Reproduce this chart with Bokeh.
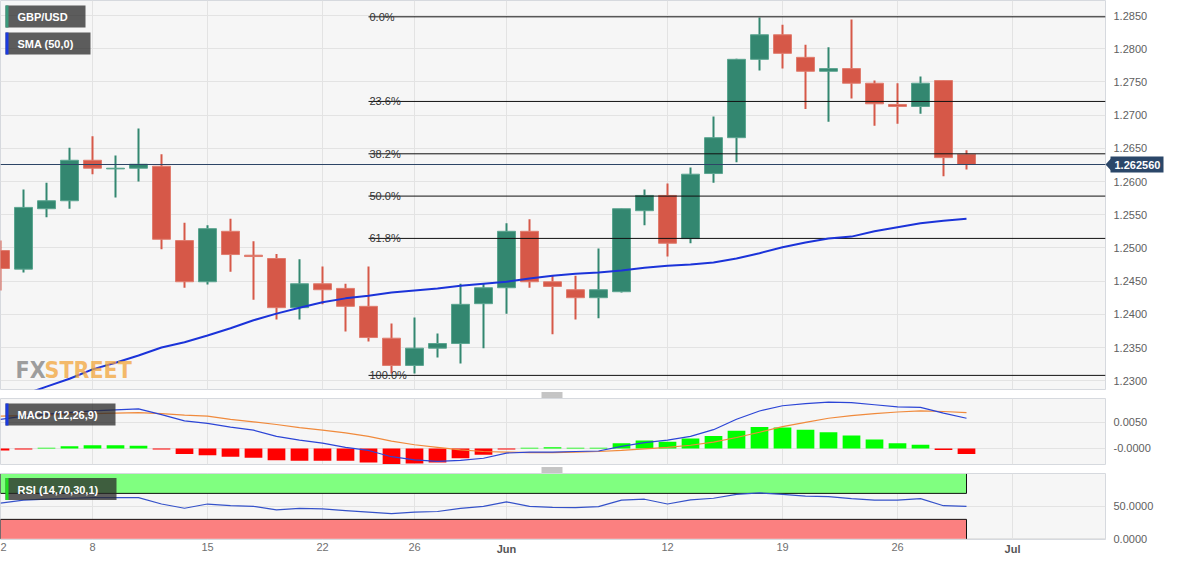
import pandas as pd
from bokeh.plotting import figure
from bokeh.layouts import column
from bokeh.models import Range1d, FixedTicker, PrintfTickFormatter, Label, Span
from bokeh.embed import file_html
from bokeh.resources import INLINE
from bokeh.core.properties import value

# ---------------- data (GBP/USD daily, 2 May - 29 Jun 2023) ----------------
open_ = [1.2496, 1.2468, 1.2559, 1.2571, 1.2632, 1.2619, 1.2620, 1.2623, 1.2511, 1.2449,
         1.2525, 1.2489, 1.2484, 1.2410, 1.2446, 1.2439, 1.2412, 1.2364, 1.2323, 1.2349,
         1.2356, 1.2416, 1.2440, 1.2525, 1.2449, 1.2437, 1.2425, 1.2434, 1.2556, 1.2579,
         1.2514, 1.2612, 1.2666, 1.2784, 1.2821, 1.2787, 1.2766, 1.2770, 1.2748, 1.2716,
         1.2713, 1.2752, 1.2641]
high = [1.2511, 1.2588, 1.2598, 1.2651, 1.2668, 1.2639, 1.2680, 1.2641, 1.2538, 1.2534,
        1.2544, 1.2510, 1.2491, 1.2483, 1.2472, 1.2446, 1.2472, 1.2386, 1.2395, 1.2371,
        1.2446, 1.2446, 1.2537, 1.2543, 1.2458, 1.2458, 1.2499, 1.2559, 1.2588, 1.2597,
        1.2621, 1.2698, 1.2785, 1.2847, 1.2836, 1.2806, 1.2802, 1.2844, 1.2752, 1.2748,
        1.2758, 1.2752, 1.2647]
low = [1.2436, 1.2463, 1.2546, 1.2559, 1.2611, 1.2576, 1.2600, 1.2498, 1.2440, 1.2445,
       1.2464, 1.2422, 1.2392, 1.2392, 1.2415, 1.2374, 1.2359, 1.2311, 1.2311, 1.2335,
       1.2326, 1.2349, 1.2401, 1.2440, 1.2370, 1.2392, 1.2394, 1.2433, 1.2534, 1.2487,
       1.2507, 1.2598, 1.2629, 1.2767, 1.2770, 1.2709, 1.2690, 1.2725, 1.2684, 1.2687,
       1.2702, 1.2608, 1.2618]
close = [1.2469, 1.2561, 1.2571, 1.2632, 1.2620, 1.2620, 1.2626, 1.2513, 1.2449, 1.2529,
         1.2490, 1.2487, 1.2410, 1.2446, 1.2437, 1.2412, 1.2365, 1.2323, 1.2349, 1.2356,
         1.2415, 1.2440, 1.2525, 1.2449, 1.2442, 1.2425, 1.2437, 1.2559, 1.2579, 1.2507,
         1.2611, 1.2666, 1.2784, 1.2821, 1.2793, 1.2766, 1.2770, 1.2748, 1.2717, 1.2713,
         1.2748, 1.2636, 1.26256]
sma50 = [1.2267, 1.2279, 1.2291, 1.2303, 1.2317, 1.2327, 1.2338, 1.2350, 1.2358, 1.2368,
         1.2379, 1.2391, 1.2401, 1.2410, 1.2418, 1.2424, 1.2428, 1.2433, 1.2436, 1.2439,
         1.2443, 1.2446, 1.2449, 1.2454, 1.2458, 1.2461, 1.2463, 1.2466, 1.2470, 1.2473,
         1.2475, 1.2478, 1.2484, 1.2492, 1.2501, 1.2508, 1.2514, 1.2517, 1.2525, 1.2531,
         1.2537, 1.2541, 1.2544]
macd = [0.0056, 0.0062, 0.0066, 0.0069, 0.0072, 0.0074, 0.0076, 0.0065, 0.0053, 0.0048,
        0.0041, 0.0035, 0.0023, 0.0016, 0.0010, 0.0002, -0.0004, -0.0016, -0.0022, -0.0025,
        -0.0023, -0.0019, -0.0009, -0.0007, -0.0007, -0.0006, -0.0005, 0.0004, 0.0011, 0.0016,
        0.0023, 0.0036, 0.0056, 0.0072, 0.0082, 0.0086, 0.0089, 0.0088, 0.0084, 0.0080,
        0.0079, 0.0068, 0.0058]
signal = [0.0062, 0.0063, 0.0064, 0.0066, 0.0067, 0.0068, 0.0069, 0.0067, 0.0064, 0.0062,
          0.0056, 0.0051, 0.0046, 0.0040, 0.0035, 0.0030, 0.0023, 0.0014, 0.0007, 0.0002,
          -0.0003, -0.0006, -0.0007, -0.0008, -0.0008, -0.0007, -0.0006, -0.0004, -0.0001, 0.0002,
          0.0006, 0.0012, 0.0021, 0.0031, 0.0042, 0.0050, 0.0058, 0.0063, 0.0067, 0.0070,
          0.0072, 0.0071, 0.0069]
hist = [-0.0004, -0.0002, 0.0001, 0.0004, 0.0006, 0.0006, 0.0005, -0.0002, -0.0011, -0.0013,
        -0.0016, -0.0018, -0.0023, -0.0024, -0.0024, -0.0024, -0.0027, -0.0030, -0.0029, -0.0027,
        -0.0019, -0.0012, -0.0002, 0.0001, 0.0002, 0.0001, 0.0001, 0.0010, 0.0015, 0.0013,
        0.0019, 0.0024, 0.0034, 0.0041, 0.0040, 0.0036, 0.0031, 0.0025, 0.0017, 0.0010,
        0.0007, -0.0003, -0.0011]
rsi = [55.0, 59.5, 61.0, 62.5, 63.4, 63.4, 63.4, 53.6, 47.1, 53.6,
       51.0, 50.0, 44.6, 47.0, 46.0, 43.6, 41.1, 38.7, 41.1, 42.1,
       47.0, 50.0, 57.0, 50.0, 48.5, 48.0, 49.5, 59.5, 61.0, 53.6,
       60.0, 62.5, 68.4, 70.8, 68.4, 65.9, 64.9, 61.9, 59.5, 59.5,
       61.9, 51.0, 50.0]
price_ticks = [1.2300, 1.2350, 1.2400, 1.2450, 1.2500, 1.2550, 1.2600,
               1.2650, 1.2700, 1.2750, 1.2800, 1.2850]
macd_ticks = [0.0, 0.0050]
rsi_ticks = [0.0, 50.0]
tick_dates = ["2023-05-02", "2023-05-08", "2023-05-15", "2023-05-22", "2023-05-26",
              "2023-06-01", "2023-06-12", "2023-06-19", "2023-06-26", "2023-07-03"]
tick_labels = ["2", "8", "15", "22", "26", "Jun", "12", "19", "26", "Jul"]
month_labels = ["Jun", "Jul"]
fib_ratios = [0.0, 0.236, 0.382, 0.5, 0.618, 1.0]
fib_names = ["0.0%", "23.6%", "38.2%", "50.0%", "61.8%", "100.0%"]
fib_high = 1.2848
fib_low = 1.2308
fib_start_date = "2023-05-24"
last_price = 1.262560
rsi_upper, rsi_lower = 70, 30

# ---------------- positions / geometry ----------------
all_days = pd.bdate_range("2023-05-02", "2023-07-10")
n = len(close)
xs = list(range(n))
tick_idx = [int(all_days.get_loc(pd.Timestamp(d))) for d in tick_dates]
fib_start = int(all_days.get_loc(pd.Timestamp(fib_start_date)))

FONT = "Liberation Sans"
W = 1166
FRAME_W = 1105
RB = W - FRAME_W
H_MAIN, GAP, H_MACD, H_RSI, H_XLAB = 389, 9, 66, 66, 16
XLAB_STANDOFF = 3

PPX = 23.0
X0 = 0.0
X1 = X0 + FRAME_W / PPX
def fx(px):
    return X0 + px / PPX

PPY_M = 6640.0
Y1_M = 1.2850 + 15 / PPY_M
Y0_M = Y1_M - H_MAIN / PPY_M
def fy_m(py):
    return Y1_M - py / PPY_M

Y1_D, Y0_D = 0.0096, -0.0031
PPY_D = H_MACD / (Y1_D - Y0_D)
def fy_d(py):
    return Y1_D - py / PPY_D

Y1_R, Y0_R = 100.6, -1.0
PPY_R = H_RSI / (Y1_R - Y0_R)
def fy_r(py):
    return Y1_R - py / PPY_R

GREEN = "#338770"
RED = "#d65848"
BG = "#f6f6f6"
GRID = "#e3e3e3"
OUTLINE = "#d6d9de"
xr = Range1d(X0, X1)


def style_axis(ax):
    ax.axis_line_color = None
    ax.major_tick_line_color = None
    ax.minor_tick_line_color = None
    ax.major_tick_in = 0
    ax.major_tick_out = 0
    ax.major_label_text_font = FONT
    ax.major_label_text_font_size = "11px"
    ax.major_label_text_color = "#606060"


def panel(h, y0, y1, ticks, bottom, overrides=None, xaxis=None):
    p = figure(width=W, height=h + bottom, x_range=xr, y_range=Range1d(y0, y1),
               toolbar_location=None, output_backend="svg", title=None,
               x_axis_location=xaxis, y_axis_location="right",
               min_border_left=0, min_border_right=RB, min_border_top=0,
               min_border_bottom=bottom, background_fill_color=BG,
               border_fill_color="white", outline_line_color=OUTLINE)
    ax = p.yaxis[0]
    ax.ticker = FixedTicker(ticks=ticks)
    ax.formatter = PrintfTickFormatter(format="%.4f")
    if overrides:
        ax.major_label_overrides = overrides
    style_axis(ax)
    ax.major_label_standoff = 8
    p.xgrid.ticker = FixedTicker(ticks=tick_idx)
    p.xgrid.grid_line_color = GRID
    p.ygrid.grid_line_color = GRID
    return p


def overlay(h, x_range, y0, y1, right=0):
    # transparent figure laid over a panel (negative top margin) so that it can
    # draw in the panel's axis / gap area
    o = figure(width=W, height=h, x_range=x_range, y_range=Range1d(y0, y1),
               toolbar_location=None, output_backend="svg", title=None,
               x_axis_location=None, y_axis_location=None, min_border=0,
               min_border_left=0, min_border_right=right, min_border_top=0, min_border_bottom=0,
               background_fill_alpha=0, border_fill_alpha=0, outline_line_color=None,
               margin=(-h, 0, 0, 0))
    try:
        o.frame_align = False
    except Exception:
        pass
    o.xgrid.visible = False
    o.ygrid.visible = False
    return o


def tag_box(p, fy, top_px, width_px, bar_color, text):
    p.quad(left=[fx(5)], right=[fx(5 + width_px)], top=[fy(top_px)], bottom=[fy(top_px + 22)],
           fill_color="#282828", fill_alpha=0.75, line_color=None)
    p.quad(left=[fx(5)], right=[fx(8)], top=[fy(top_px)], bottom=[fy(top_px + 22)],
           fill_color=bar_color, line_color=None)
    p.text(x=[fx(17)], y=[fy(top_px + 11.5)], text=[text], text_baseline="middle",
           text_align="left", text_color="white", text_font=value(FONT),
           text_font_size="11px", text_font_style="bold")


def handle(o, fy, h):
    hy = [fy(h + 3.5), fy(h + 5.5), fy(h + 7.5)]
    o.segment(x0=[541] * 3, x1=[562] * 3, y0=hy, y1=hy, line_color="#8a8a8a", line_width=1)


# ---------------- main price panel ----------------
pm = panel(H_MAIN, Y0_M, Y1_M, price_ticks, GAP)

WM_FONT = "Liberation Sans Narrow, DejaVu Sans Condensed, Liberation Sans, sans-serif"
pm.add_layout(Label(x=fx(15), y=fy_m(369), text="FX", text_font=WM_FONT,
                    text_font_size="23px", text_font_style="bold", text_color="#808080",
                    text_alpha=0.75, text_baseline="alphabetic"))
pm.add_layout(Label(x=fx(44), y=fy_m(369), text="STREET", text_font=WM_FONT,
                    text_font_size="23px", text_font_style="bold", text_color="#f2a53a",
                    text_alpha=0.75, text_baseline="alphabetic"))

cols = [GREEN if c >= o else RED for o, c in zip(open_, close)]
edge = ["#5ba590" if c >= o else "#e07c6e" for o, c in zip(open_, close)]
pm.segment(x0=xs, x1=xs, y0=low, y1=high, line_color=cols, line_width=2)
pm.vbar(x=xs, width=0.78, top=[max(o, c) for o, c in zip(open_, close)],
        bottom=[min(o, c) for o, c in zip(open_, close)], fill_color=cols,
        line_color=edge, line_width=1)

fib_levels = [fib_high - r * (fib_high - fib_low) for r in fib_ratios]
pm.segment(x0=[fib_start] * len(fib_levels), x1=[X1] * len(fib_levels), y0=fib_levels,
           y1=fib_levels, line_color="#111111", line_width=1)
pm.text(x=[fib_start + 1 / PPX] * len(fib_levels), y=fib_levels, text=fib_names,
        text_baseline="alphabetic", text_align="left", text_color="#333333",
        text_font=value(FONT), text_font_size="11px")
pm.add_layout(Span(location=last_price, dimension="width", line_color="#2d4566", line_width=1))
pm.line(xs, sma50, line_color="#1b33d9", line_width=2)

tag_box(pm, fy_m, 5, 80, "#3a9a7c", "GBP/USD")
tag_box(pm, fy_m, 32, 85, "#1a3ae0", "SMA (50,0)")

# overlay over the main panel: last-price tag and the panel handle below it
ov1 = overlay(H_MAIN + GAP, Range1d(0, W), fy_m(H_MAIN + GAP), Y1_M)
ov1.quad(left=[FRAME_W + 5], right=[FRAME_W + 58], top=[last_price + 8 / PPY_M],
         bottom=[last_price - 8 / PPY_M], fill_color="#2b4769", line_color=None)
ov1.patch(x=[FRAME_W, FRAME_W + 5.5, FRAME_W + 5.5],
          y=[last_price, last_price + 6 / PPY_M, last_price - 6 / PPY_M],
          fill_color="#2b4769", line_color=None)
ov1.text(x=[FRAME_W + 9], y=[last_price - 0.5 / PPY_M], text=["1.262560"], text_baseline="middle",
         text_align="left", text_color="white", text_font=value(FONT),
         text_font_size="11px", text_font_style="bold")
handle(ov1, fy_m, H_MAIN)

# ---------------- MACD panel ----------------
pdm = panel(H_MACD, Y0_D, Y1_D, macd_ticks, GAP, overrides={0: "-0.0000", 0.005: "0.0050"})
pdm.vbar(x=xs, width=0.77, top=hist, bottom=0,
         fill_color=["#00ff00" if h >= 0 else "#ff0000" for h in hist], line_color=None)
pdm.line(xs, signal, line_color="#f08a3c", line_width=1.2)
pdm.line(xs, macd, line_color="#2c45d6", line_width=1.2)
tag_box(pdm, fy_d, 5, 110, "#1a3ae0", "MACD (12,26,9)")

ov2 = overlay(H_MACD + GAP, Range1d(0, W), fy_d(H_MACD + GAP), Y1_D)
handle(ov2, fy_d, H_MACD)

# ---------------- RSI panel ----------------
pr = panel(H_RSI, Y0_R, Y1_R, rsi_ticks, H_XLAB, xaxis="below")
xa = pr.xaxis[0]
xa.ticker = FixedTicker(ticks=tick_idx)
xa.major_label_overrides = {t: ("" if lab in month_labels else lab)
                            for t, lab in zip(tick_idx, tick_labels)}
style_axis(xa)
xa.major_label_standoff = XLAB_STANDOFF
xa.major_label_text_color = "#707070"
last = xs[-1]
pr.quad(left=[0], right=[last], bottom=[rsi_upper], top=[100], fill_color="#80ff80", line_color=None)
pr.quad(left=[0], right=[last], bottom=[0], top=[rsi_lower], fill_color="#fb8080", line_color=None)
pr.multi_line(xs=[[0, 0, last, last], [0, 0, last, last]],
              ys=[[100, rsi_upper, rsi_upper, 100], [0, rsi_lower, rsi_lower, 0]],
              line_color="#111111", line_width=1)
pr.line(xs, rsi, line_color="#3552c9", line_width=1.2)
tag_box(pr, fy_r, 4.5, 111, "#22dd22", "RSI (14,70,30,1)")

# overlay over the RSI panel: bold month labels on the time axis
ov3 = overlay(H_RSI + H_XLAB, xr, H_RSI + H_XLAB, 0, right=RB)
m_idx = [t for t, lab in zip(tick_idx, tick_labels) if lab in month_labels]
m_lab = [lab for lab in tick_labels if lab in month_labels]
ov3.text(x=m_idx, y=[H_RSI + XLAB_STANDOFF] * len(m_idx), text=m_lab, text_baseline="top",
         text_align="center", text_color="#555555", text_font=value(FONT),
         text_font_size="11px", text_font_style="bold")

layout = column(pm, ov1, pdm, ov2, pr, ov3, spacing=0)
open("out.html", "w").write(file_html(layout, INLINE))
